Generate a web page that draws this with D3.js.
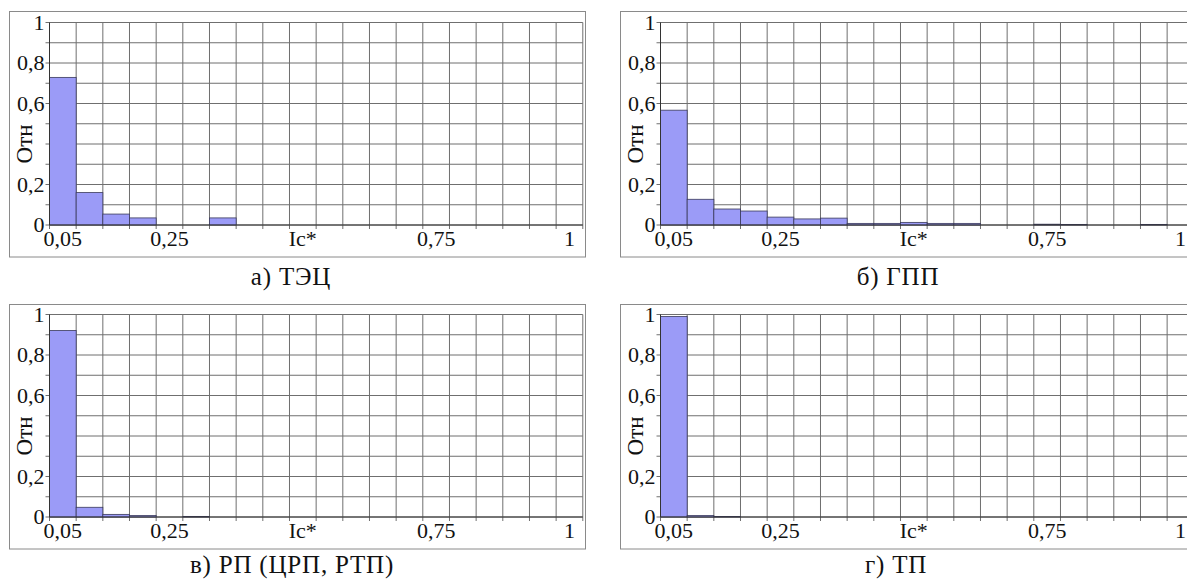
<!DOCTYPE html>
<html>
<head>
<meta charset="utf-8">
<script src="https://cdn.jsdelivr.net/npm/d3@7"></script>
<style>
  body { margin: 0; background: #fff; }
  svg { display: block; }
</style>
</head>
<body>
<div id="container"></div>
<script>
// bins of Ic* (upper edge of each 0.05 step)
const bins = ["0,05","0,1","0,15","0,2","0,25","0,3","0,35","0,4","0,45","0,5",
              "0,55","0,6","0,65","0,7","0,75","0,8","0,85","0,9","0,95","1"];

// relative frequencies
const tec = [0.729, 0.160, 0.054, 0.035, 0, 0, 0.035, 0, 0, 0, 0, 0, 0, 0, 0, 0, 0, 0, 0, 0];
const gpp = [0.567, 0.127, 0.079, 0.069, 0.039, 0.030, 0.034, 0.008, 0.008, 0.013,
             0.008, 0.008, 0, 0, 0.004, 0.003, 0, 0, 0.003, 0];
const rp  = [0.921, 0.048, 0.013, 0.007, 0, 0.003, 0, 0, 0, 0, 0, 0, 0, 0, 0, 0, 0, 0, 0, 0];
const tp  = [0.990, 0.007, 0.002, 0, 0, 0, 0, 0, 0, 0, 0, 0, 0, 0, 0, 0, 0, 0, 0, 0];

// tick labels
const xTickBins = ["0,05", "0,25", "0,5", "0,75", "1"];
const xTickText = ["0,05", "0,25", "Ic*", "0,75", "1"];
const yTickVals = [0, 0.2, 0.6, 0.8, 1];
const yTickText = ["0", "0,2", "0,6", "0,8", "1"];
const yTitle = "Отн";
const yTitleAt = 0.4;

const captions = ["а) ТЭЦ", "б) ГПП", "в) РП (ЦРП, РТП)", "г) ТП"];

const w = 1187;
const h = 581;
const serif = "'Liberation Serif', 'Times New Roman', serif";

let viz = d3.select("#container")
  .append("svg")
    .attr("width", w)
    .attr("height", h)
    .style("font-family", serif);

const plotW = 533.3;
const plotH = 202.5;

// one entry per panel: box, plot origin, caption place
let panels = [
  {values: tec, box: [9.5, 11.5, 576, 245.5], x0: 49.5, y0: 22.5, cap: captions[0], cx: 291, cy: 285},
  {values: gpp, box: [620.5, 11.5, 576, 245.5], x0: 660.5, y0: 22.5, cap: captions[1], cx: 898, cy: 285},
  {values: rp,  box: [9.5, 304.5, 576, 244.5], x0: 49.5, y0: 314.5, cap: captions[2], cx: 292, cy: 573},
  {values: tp,  box: [620.5, 304.5, 576, 244.5], x0: 660.5, y0: 314.5, cap: captions[3], cx: 896, cy: 573}
];

function label(sel, size) {
  return sel
    .style("font-family", serif)
    .style("font-size", size + "px")
    .attr("fill", "#111");
}

function drawPanel(p) {
  let xScale = d3.scaleBand().domain(bins).range([p.x0, p.x0 + plotW]).paddingInner(0).paddingOuter(0);
  let yScale = d3.scaleLinear().domain([0, 1]).range([p.y0 + plotH, p.y0]);

  // outer frame
  viz.append("rect")
    .attr("x", p.box[0]).attr("y", p.box[1])
    .attr("width", p.box[2]).attr("height", p.box[3])
    .attr("fill", "none")
    .attr("stroke", "#8a8a8a");

  let g = viz.append("g");

  // horizontal grid every 0.1
  let yGrid = d3.range(0, 11).map(i => i / 10);
  g.selectAll(".hgrid").data(yGrid).enter()
    .append("line")
      .attr("x1", p.x0 - 4).attr("x2", p.x0 + plotW)
      .attr("y1", d => yScale(d)).attr("y2", d => yScale(d))
      .attr("stroke", "#6f6f6f")
      .attr("stroke-width", 1);

  // vertical grid at bin edges
  let edges = bins.map(b => xScale(b)).concat([p.x0 + plotW]);
  g.selectAll(".vgrid").data(edges).enter()
    .append("line")
      .attr("x1", d => d).attr("x2", d => d)
      .attr("y1", p.y0).attr("y2", p.y0 + plotH + 4)
      .attr("stroke", "#6f6f6f")
      .attr("stroke-width", 1);

  // bars
  let data = bins.map((b, i) => ({bin: b, v: p.values[i]})).filter(d => d.v > 0);
  g.selectAll(".bar").data(data).enter()
    .append("rect")
      .attr("x", d => xScale(d.bin))
      .attr("y", d => yScale(d.v))
      .attr("width", xScale.bandwidth())
      .attr("height", d => yScale(0) - yScale(d.v))
      .attr("fill", "#9b9bf7")
      .attr("stroke", "#3a3a5a")
      .attr("stroke-width", 0.8);

  // axis lines
  g.append("line")
    .attr("x1", p.x0).attr("x2", p.x0)
    .attr("y1", p.y0).attr("y2", p.y0 + plotH)
    .attr("stroke", "#333");
  g.append("line")
    .attr("x1", p.x0).attr("x2", p.x0 + plotW)
    .attr("y1", p.y0 + plotH).attr("y2", p.y0 + plotH)
    .attr("stroke", "#333");

  // y tick labels
  label(g.selectAll(".ylab").data(yTickVals).enter()
    .append("text")
      .attr("x", p.x0 - 5)
      .attr("y", d => yScale(d))
      .attr("dy", "0.34em")
      .attr("text-anchor", "end"), 22)
      .text((d, i) => yTickText[i]);

  // y title
  label(g.append("text")
    .attr("transform", "translate(" + (p.x0 - 25) + "," + yScale(yTitleAt) + ") rotate(-90)")
    .attr("dy", "0.34em")
    .attr("text-anchor", "middle"), 23)
    .text(yTitle);

  // x tick labels at bin centres
  label(g.selectAll(".xlab").data(xTickBins).enter()
    .append("text")
      .attr("x", d => xScale(d) + xScale.bandwidth() / 2)
      .attr("y", p.y0 + plotH + 21)
      .attr("text-anchor", "middle"), 22)
      .text((d, i) => xTickText[i]);

  // caption
  label(viz.append("text")
    .attr("x", p.cx).attr("y", p.cy)
    .attr("text-anchor", "middle"), 25)
    .style("letter-spacing", "0.8px")
    .text(p.cap);
}

panels.forEach(drawPanel);
</script>
</body>
</html>
